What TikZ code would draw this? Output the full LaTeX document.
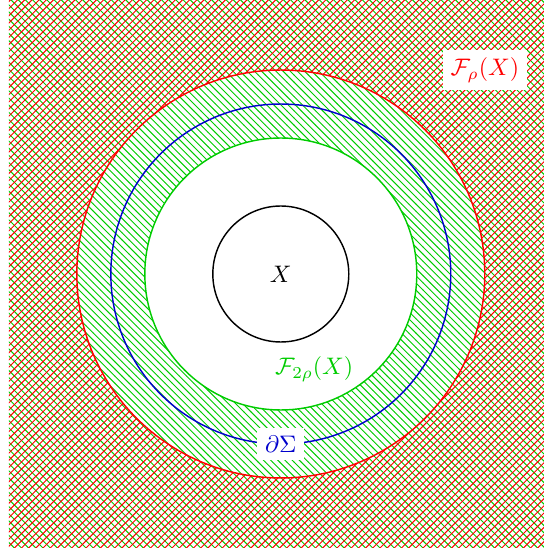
\documentclass[tikz,border=0pt]{standalone}
\usepackage{amsmath}
\usepackage{amssymb}
\usepackage{xcolor}
\usetikzlibrary{patterns}
\colorlet{hgreen}{green!80!black}
\colorlet{hblue}{blue!80!black}
\tikzset{
    ring/.style={semithick},
    tag/.style={inner sep=.3333em}
}

\begin{document}
\begin{tikzpicture}[line width=0.6pt]
    \useasboundingbox (-4.13,-4.03) rectangle (3.87,4.03);

    % 外部区域的阴影 (hatching outside the circles)
    \fill[pattern=north west lines, pattern color=hgreen, even odd rule]
        (-4,-4.03) rectangle (3.87,4.03) (0,0) circle (2);
    \fill[pattern=north east lines, pattern color=red, even odd rule]
        (-4,-4.03) rectangle (3.87,4.03) (0,0) circle (3);

    % 同心圆 (radii 1, 2, 2.5, 3)
    \draw[ring, red] (0,0) circle (3);
    \draw[ring, hblue] (0,0) circle (2.5);
    \draw[ring, hgreen] (0,0) circle (2);
    \draw[ring, black] (0,0) circle (1);

    % 标签
    \node[tag] (setX) at (0,0) {$X$};
    \node[tag, text=hgreen] (nbhdtwo) at (0.49,-1.40) {$\mathcal{F}_{2\rho}(X)$};
    \node[tag, text=hblue, fill=white] (bdry) at (0,-2.5) {$\partial\Sigma$};
    \node[tag, text=red, fill=white] (nbhdone) at (3.0,3.0) {$\mathcal{F}_{\rho}(X)$};
\end{tikzpicture}
\end{document}
